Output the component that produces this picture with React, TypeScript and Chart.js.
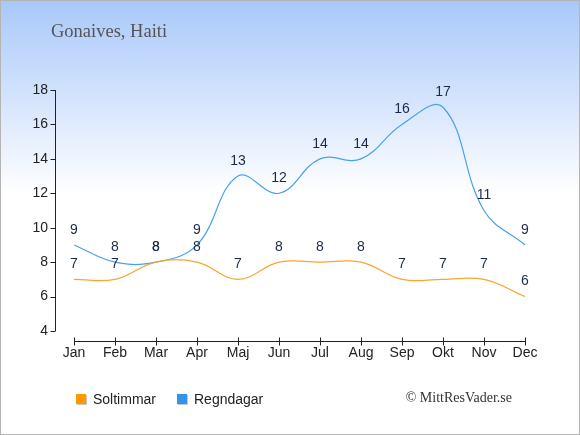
import React, { useEffect, useRef } from 'react';
import { Chart, registerables } from 'chart.js';

Chart.register(...registerables);

const months = ['Jan', 'Feb', 'Mar', 'Apr', 'Maj', 'Jun', 'Jul', 'Aug', 'Sep', 'Okt', 'Nov', 'Dec'];
const sunHours = [7, 7, 8, 8, 7, 8, 8, 8, 7, 7, 7, 6];
const rainDays = [9, 8, 8, 9, 13, 12, 14, 14, 16, 17, 11, 9];
const yTicks = [4, 6, 8, 10, 12, 14, 16, 18];
const titleText = 'Gonaives, Haiti';
const creditText = '© MittResVader.se';

const decor = {
  id: 'decor',
  beforeDraw(chart: any) {
    const { ctx, width, height } = chart;
    ctx.save();
    const g = ctx.createLinearGradient(0, 0, 0, 195);
    g.addColorStop(0, '#a8c8fa');
    g.addColorStop(1, '#ffffff');
    ctx.fillStyle = '#ffffff';
    ctx.fillRect(0, 0, width, height);
    ctx.fillStyle = g;
    ctx.fillRect(0, 0, width, 195);
    ctx.strokeStyle = '#b4b4b4';
    ctx.lineWidth = 1;
    ctx.strokeRect(0.5, 0.5, width - 1, height - 1);

    ctx.fillStyle = '#555555';
    ctx.font = '18.5px "Liberation Serif", serif';
    ctx.textAlign = 'left';
    ctx.textBaseline = 'alphabetic';
    ctx.fillText(titleText, 51, 37);
    ctx.restore();
  },
  afterDatasetsDraw(chart: any) {
    const { ctx } = chart;
    const x = chart.scales.x;
    const y = chart.scales.y;
    ctx.save();
    // axes
    ctx.strokeStyle = '#222222';
    ctx.lineWidth = 1;
    const axX = 55.5;
    const axY = 341.5;
    ctx.beginPath();
    ctx.moveTo(axX, y.getPixelForValue(yTicks[yTicks.length - 1]));
    ctx.lineTo(axX, y.getPixelForValue(yTicks[0]));
    yTicks.forEach((v) => {
      const py = Math.round(y.getPixelForValue(v)) + 0.5;
      ctx.moveTo(axX - 5, py);
      ctx.lineTo(axX, py);
    });
    ctx.moveTo(x.getPixelForValue(0), axY);
    ctx.lineTo(x.getPixelForValue(months.length - 1), axY);
    months.forEach((_, i) => {
      const px = Math.round(x.getPixelForValue(i)) + 0.5;
      ctx.moveTo(px, axY - 4);
      ctx.lineTo(px, axY + 4);
    });
    ctx.stroke();

    // value labels
    ctx.fillStyle = '#1c2a48';
    ctx.font = '14px "Liberation Sans", Arial, sans-serif';
    ctx.textAlign = 'center';
    ctx.textBaseline = 'middle';
    chart.data.datasets.forEach((ds: any, di: number) => {
      const meta = chart.getDatasetMeta(di);
      meta.data.forEach((pt: any, i: number) => {
        ctx.fillText(String(ds.data[i]), pt.x, pt.y - 15);
      });
    });

    // legend
    ctx.font = '14px "Liberation Sans", Arial, sans-serif';
    ctx.textAlign = 'left';
    ctx.textBaseline = 'alphabetic';
    let lx = 76;
    chart.data.datasets.forEach((ds: any) => {
      ctx.fillStyle = '#c8c8c8';
      ctx.fillRect(lx + 1, 395, 10, 10);
      ctx.fillStyle = ds.backgroundColor;
      ctx.fillRect(lx, 394, 10, 10);
      ctx.fillStyle = '#222222';
      ctx.fillText(ds.label, lx + 17, 404);
      lx += 17 + ctx.measureText(ds.label).width + 21;
    });

    ctx.fillStyle = '#333333';
    ctx.font = '14px "Liberation Serif", serif';
    ctx.textAlign = 'right';
    ctx.fillText(creditText, 512, 402);
    ctx.restore();
  },
};

export default function App() {
  const canvasRef = useRef<HTMLCanvasElement>(null);

  useEffect(() => {
    document.body.style.margin = '0';
    if (!canvasRef.current) return;
    const chart = new Chart(canvasRef.current, {
      type: 'line',
      data: {
        labels: months,
        datasets: [
          {
            label: 'Soltimmar',
            data: sunHours,
            borderColor: '#f8a62c',
            backgroundColor: '#ff9900',
            borderWidth: 1.2,
            pointRadius: 0,
            tension: 0.4,
            fill: false,
          },
          {
            label: 'Regndagar',
            data: rainDays,
            borderColor: '#4aa2ec',
            backgroundColor: '#2f95e8',
            borderWidth: 1.2,
            pointRadius: 0,
            tension: 0.4,
            fill: false,
          },
        ],
      },
      options: {
        responsive: false,
        animation: false,
        events: [],
        layout: { padding: { left: 0, right: 55, top: 90, bottom: 74 } },
        plugins: {
          legend: { display: false },
          title: { display: false },
          tooltip: { enabled: false },
        },
        scales: {
          x: {
            grid: { display: false, drawTicks: false },
            border: { display: false },
            ticks: {
              color: '#222222',
              padding: 14,
              maxRotation: 0,
              font: { size: 14, family: '"Liberation Sans", Arial, sans-serif' },
            },
            afterFit: (s: any) => {
              s.height = 30;
            },
          },
          y: {
            min: yTicks[0],
            max: yTicks[yTicks.length - 1],
            grid: { display: false, drawTicks: false },
            border: { display: false },
            afterBuildTicks: (s: any) => {
              s.ticks = yTicks.map((v) => ({ value: v }));
            },
            ticks: {
              color: '#222222',
              padding: 26,
              font: { size: 14, family: '"Liberation Sans", Arial, sans-serif' },
            },
            afterFit: (s: any) => {
              s.width = 74;
            },
          },
        },
      },
      plugins: [decor],
    });
    return () => chart.destroy();
  }, []);

  return <canvas ref={canvasRef} width={580} height={435} style={{ display: 'block' }} />;
}
